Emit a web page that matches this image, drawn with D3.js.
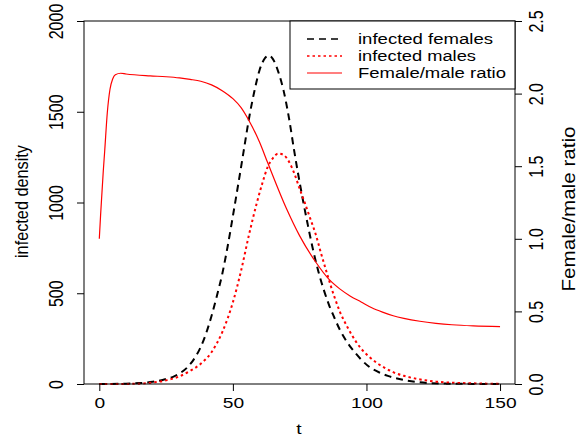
<!DOCTYPE html>
<html><head><meta charset="utf-8">
<script src="https://cdn.jsdelivr.net/npm/d3@7"></script>
<style>html,body{margin:0;padding:0;background:#fff;} svg{display:block;font-family:"Liberation Sans",Arial,sans-serif;}</style>
</head><body>
<svg id="chart" width="582" height="439"></svg>
<script>
// ---- data ----
const femaleT = [0,10,15,20,25,28,30,33,36,38,40,42,44,46,48,50,52,54,56,58,60,62,63.5,65,67,69,71,73,76,78,80,82,84,86,88,90,92,94,96,98,101,105,108,114,120,130,140,150];
const femaleV = [0,2,5,12,28,42,58,92,150,205,280,375,485,605,755,925,1100,1280,1460,1610,1730,1795,1810,1790,1720,1615,1465,1280,1030,880,740,620,520,435,365,300,248,205,168,135,95,62,45,22,9,2,0.5,0];
const maleT = [0,10,15,20,25,30,34,38,42,46,50,53,56,59,61,63,65,67,69,71,73,75,77,79,81,83,85,88,90,93,96,98,101,104,107,110,114,118,122,126,132,139,145,150];
const maleV = [0,0.5,2,8,20,42,72,112,175,285,450,620,820,1000,1105,1195,1245,1270,1262,1225,1160,1075,995,910,825,720,620,480,400,310,235,195,150,115,88,65,45,31,21,13,7,4,2,1];
const ratioT = [0,0.5,1,1.5,2,3,4,5,6,8,10,19,25,30,34,38,42,46,50,53,56,60,63,70,75,81,86,90,94,98,102,106,110,114,120,126,132,140,150];
const ratioV = [1.0,1.17,1.32,1.47,1.6,1.87,2.03,2.1,2.13,2.14,2.135,2.122,2.116,2.108,2.098,2.085,2.06,2.02,1.965,1.905,1.815,1.665,1.525,1.21,1.02,0.84,0.72,0.655,0.605,0.565,0.525,0.495,0.47,0.452,0.432,0.418,0.408,0.4,0.395];
const xTicks = [0,50,100,150];
const yTicks = [0,500,1000,1500,2000];
const rTicks = [0,0.5,1.0,1.5,2.0,2.5];
const legendLabels = ["infected females","infected males","Female/male ratio"];

const svg = d3.select("#chart");
const L = 84, R = 515, T = 21, B = 384;
const x = d3.scaleLinear().domain([-5.73,155.6]).range([L,R]);
const yL = d3.scaleLinear().domain([0,2000]).range([B,T]);
const yR = d3.scaleLinear().domain([0,2.5]).range([B,T]);
const FONT = "Liberation Sans, Arial, sans-serif";

// lines
const mk = (ys) => d3.line().x(d=>x(d[0])).y(d=>ys(d[1])).curve(d3.curveMonotoneX);
const plot = svg.append("g");
plot.append("path").datum(femaleT.map((t,i)=>[t,femaleV[i]]))
  .attr("d", mk(yL)).attr("fill","none").attr("stroke","#000").attr("stroke-width",2).attr("stroke-dasharray","7,5");
plot.append("path").datum(maleT.map((t,i)=>[t,maleV[i]]))
  .attr("d", mk(yL)).attr("fill","none").attr("stroke","#ff0000").attr("stroke-width",2).attr("stroke-dasharray","2.5,3");
plot.append("path").datum(ratioT.map((t,i)=>[t,ratioV[i]]))
  .attr("d", mk(yR)).attr("fill","none").attr("stroke","#ff0000").attr("stroke-width",1.2);

// axes
const gx = svg.append("g").attr("transform",`translate(0,${B})`)
  .call(d3.axisBottom(x).tickValues(xTicks).tickSize(7).tickFormat(d3.format("d")));
gx.select(".domain").remove();
gx.selectAll("text").attr("y",24).attr("dy",null).attr("font-size",15).attr("fill","#000")
  .attr("font-family",FONT).attr("transform","scale(1.28,1)");
gx.selectAll("line").attr("stroke","#000");

const gl = svg.append("g").attr("transform",`translate(${L},0)`)
  .call(d3.axisLeft(yL).tickValues(yTicks).tickSize(7).tickFormat(d3.format("d")));
gl.select(".domain").remove();
gl.selectAll("text").attr("x",0).attr("y",0).attr("dy",null).attr("text-anchor","middle")
  .attr("font-size",16).attr("fill","#000").attr("font-family",FONT)
  .attr("transform","translate(-21,0) rotate(-90) scale(1,1.28)");
gl.selectAll("line").attr("stroke","#000");

const gr = svg.append("g").attr("transform",`translate(${R},0)`)
  .call(d3.axisRight(yR).tickValues(rTicks).tickSize(7).tickFormat(d3.format(".1f")));
gr.select(".domain").remove();
gr.selectAll("text").attr("x",0).attr("y",0).attr("dy",null).attr("text-anchor","middle")
  .attr("font-size",16).attr("fill","#000").attr("font-family",FONT)
  .attr("transform","translate(28,0) rotate(-90) scale(1,1.28)");
gr.selectAll("line").attr("stroke","#000");

// box
svg.append("rect").attr("x",L).attr("y",T).attr("width",R-L).attr("height",B-T)
  .attr("fill","none").attr("stroke","#000").attr("stroke-width",1);

// axis titles
svg.append("text").attr("transform","translate(299,434) scale(1.28,1)").attr("text-anchor","middle")
  .attr("font-size",15).attr("font-family",FONT).text("t");
svg.append("text").attr("transform","translate(28,201.5) rotate(-90) scale(1,1.28)").attr("text-anchor","middle")
  .attr("font-size",14.5).attr("font-family",FONT).attr("textLength",113).attr("lengthAdjust","spacingAndGlyphs")
  .text("infected density");
svg.append("text").attr("transform","translate(575,209) rotate(-90) scale(1,1.28)").attr("text-anchor","middle")
  .attr("font-size",14).attr("font-family",FONT).attr("textLength",165).attr("lengthAdjust","spacingAndGlyphs")
  .text("Female/male ratio");

// legend
const lg = svg.append("g");
lg.append("rect").attr("x",290).attr("y",T).attr("width",R-290).attr("height",68)
  .attr("fill","#fff").attr("stroke","#000").attr("stroke-width",1);
const lstyles = [{c:"#000",d:"7,5",w:1.5},{c:"#ff0000",d:"2.5,3",w:1.5},{c:"#ff0000",d:null,w:1.2}];
const lwidths = [135,118,148];
legendLabels.forEach((lab,i)=>{
  const cy = 39 + i*17;
  lg.append("line").attr("x1",307).attr("x2",342).attr("y1",cy).attr("y2",cy)
    .attr("stroke",lstyles[i].c).attr("stroke-width",lstyles[i].w).attr("stroke-dasharray",lstyles[i].d);
  lg.append("text").attr("x",358).attr("y",cy+5).attr("font-size",14).attr("font-family",FONT)
    .attr("textLength",lwidths[i]).attr("lengthAdjust","spacingAndGlyphs").text(lab);
});
</script>
</body></html>
